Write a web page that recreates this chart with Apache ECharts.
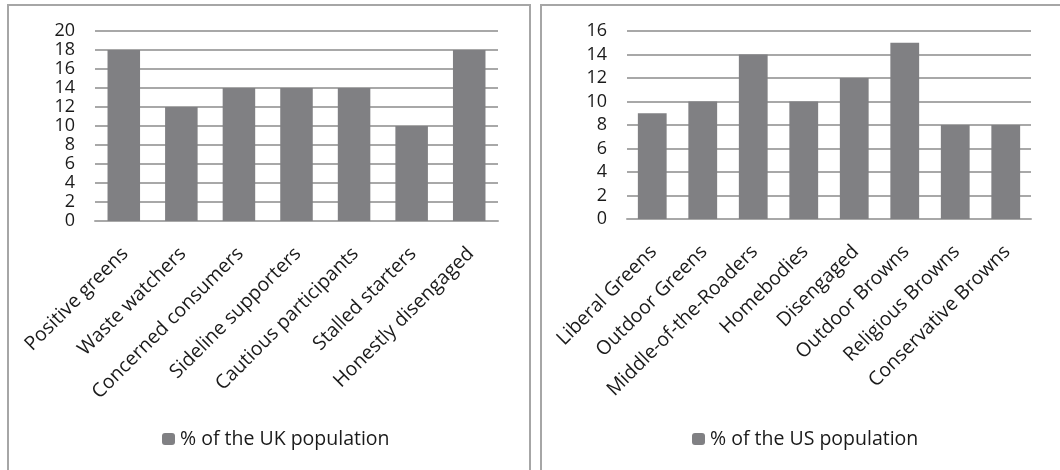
<!DOCTYPE html>
<html>
<head>
<meta charset="utf-8">
<script src="https://cdn.jsdelivr.net/npm/echarts@6/dist/echarts.min.js"></script>
<style>
html,body{margin:0;padding:0;background:#fff;}
#c{width:1060px;height:470px;}
</style>
</head>
<body>
<div id="c"></div>
<script>
const ukCategories = ['Positive greens','Waste watchers','Concerned consumers','Sideline supporters','Cautious participants','Stalled starters','Honestly disengaged'];
const ukValues = [18,12,14,14,14,10,18];
const ukSeriesName = '% of the UK population';
const ukTicks = {min:0, max:20, interval:2};

const usCategories = ['Liberal Greens','Outdoor Greens','Middle-of-the-Roaders','Homebodies','Disengaged','Outdoor Browns','Religious Browns','Conservative Browns'];
const usValues = [9,10,14,10,12,15,8,8];
const usSeriesName = '% of the US population';
const usTicks = {min:0, max:16, interval:2};

const FONT = 'Open Sans';
const TEXT = '#1a1a1a';
const GRID = '#a8a8a8';
const BAR = '#808083';

function xAxisCfg(idx, cats){
  return {
    type:'category', gridIndex:idx, data:cats,
    axisLine:{show:true, lineStyle:{color:GRID, width:2}},
    axisTick:{show:false},
    axisLabel:{interval:0, rotate:45, margin:17, verticalAlign:'top', padding:[0,8,0,0],
               color:TEXT, fontFamily:FONT, fontSize:19.5}
  };
}
function yAxisCfg(idx, t){
  return {
    type:'value', gridIndex:idx, min:t.min, max:t.max, interval:t.interval,
    axisLine:{show:false}, axisTick:{show:false},
    splitLine:{show:true, lineStyle:{color:GRID, width:2}},
    axisLabel:{margin:20, color:TEXT, fontFamily:FONT, fontSize:18}
  };
}

const chart = echarts.init(document.getElementById('c'), null, {renderer:'canvas'});
chart.setOption({
  animation:false,
  backgroundColor:'#fff',
  graphic:[
    {type:'rect', shape:{x:8, y:5, width:522, height:500}, style:{fill:'none', stroke:'#a6a6a6', lineWidth:2}},
    {type:'rect', shape:{x:541, y:5, width:540, height:500}, style:{fill:'none', stroke:'#a6a6a6', lineWidth:2}}
  ],
  grid:[
    {left:95, right:562, top:31, bottom:249},
    {left:627, right:29, top:31, bottom:251}
  ],
  xAxis:[xAxisCfg(0, ukCategories), xAxisCfg(1, usCategories)],
  yAxis:[yAxisCfg(0, ukTicks), yAxisCfg(1, usTicks)],
  legend:[
    {data:[ukSeriesName], left:157, top:424, itemWidth:13, itemHeight:12, itemGap:10,
     textStyle:{color:TEXT, fontFamily:FONT, fontSize:19.5}},
    {data:[usSeriesName], left:687, top:424, itemWidth:13, itemHeight:12, itemGap:10,
     textStyle:{color:TEXT, fontFamily:FONT, fontSize:19.5}}
  ],
  series:[
    {type:'bar', name:ukSeriesName, xAxisIndex:0, yAxisIndex:0, data:ukValues, barWidth:'56.5%', itemStyle:{color:BAR}},
    {type:'bar', name:usSeriesName, xAxisIndex:1, yAxisIndex:1, data:usValues, barWidth:'57%', itemStyle:{color:BAR}}
  ]
});
</script>
</body>
</html>
